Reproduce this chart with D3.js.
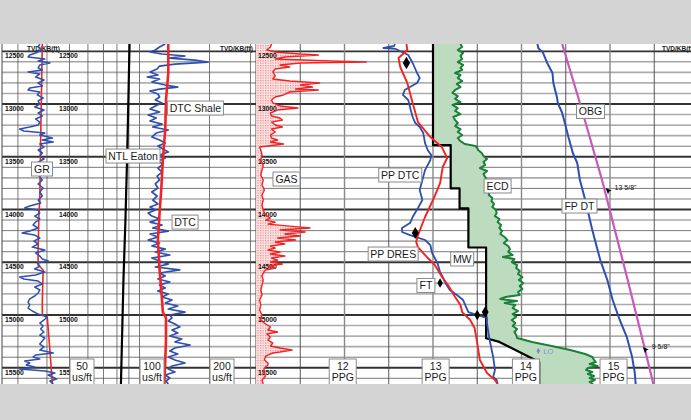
<!DOCTYPE html>
<html>
<head>
<meta charset="utf-8">
<script src="https://cdn.jsdelivr.net/npm/d3@7"></script>
<style>
  body { margin: 0; background: #fff; }
  svg { display: block; font-family: "Liberation Sans", Arial, sans-serif; }
</style>
</head>
<body>
<svg id="chart" width="691" height="420"></svg>
<script>
// ---- data: [depth ft TVD, value] ----
const gr = [[12431,45],[12459,43],[12488,48],[12516,40],[12535,33],[12554,31],[12573,51],[12592,43],[12611,57],[12630,45],
  [12658,43],[12677,48],[12696,31],[12715,45],[12744,40],[12772,50],[12801,43],[12829,48],[12848,33],[12867,31],
  [12886,45],[12914,42],[12943,49],[12971,43],[13000,45],[13028,39],[13057,50],[13085,43],[13114,48],[13142,40],
  [13171,45],[13199,43],[13218,33],[13237,21],[13256,26],[13275,51],[13294,45],[13322,60],[13341,48],[13360,61],
  [13379,45],[13408,50],[13436,43],[13464,48],[13493,45],[13521,50],[13550,43],[13578,48],[13607,45],[13645,49],
  [13683,44],[13720,48],[13758,43],[13796,49],[13834,45],[13872,48],[13910,43],[13938,46],[13967,33],[13986,27],
  [14005,43],[14033,45],[14062,39],[14090,45],[14119,40],[14147,37],[14175,43],[14204,33],[14223,24],[14242,39],
  [14270,45],[14299,38],[14327,43],[14356,36],[14384,51],[14412,40],[14441,45],[14469,48],[14488,55],[14507,42],
  [14536,45],[14564,39],[14593,51],[14621,40],[14640,21],[14659,26],[14678,43],[14706,48],[14735,39],[14763,45],
  [14791,43],[14820,39],[14848,33],[14877,31],[14905,33],[14934,31],[14962,36],[14991,43],[15019,54],[15047,50],
  [15076,45],[15104,49],[15133,46],[15161,50],[15190,45],[15218,51],[15247,48],[15275,45],[15303,50],[15332,45],
  [15360,61],[15379,40],[15398,37],[15417,45],[15436,27],[15455,33],[15474,29],[15493,39],[15512,21],[15531,51],
  [15550,63],[15569,55],[15588,60],[15607,65],[15626,57],[15654,61]];
const grTrend = [[12431,48],[13341,46],[13910,45],[14033,44],[14384,43],[14526,43],[14573,49],[14858,48],
  [14991,48],[15028,54],[15332,57],[15654,60]];

const dtc = [[12431,129],[12459,122],[12488,117],[12507,111],[12526,125],[12545,157],[12564,135],[12583,173],[12602,197],[12621,142],
  [12640,122],[12668,119],[12696,111],[12725,120],[12744,108],[12763,122],[12791,113],[12820,129],[12839,146],[12858,122],
  [12877,111],[12905,120],[12933,122],[12962,117],[12990,125],[13019,117],[13047,111],[13076,122],[13104,109],[13133,118],
  [13161,111],[13190,125],[13218,114],[13246,133],[13275,118],[13313,113],[13341,122],[13370,129],[13398,120],[13427,126],
  [13455,133],[13483,122],[13512,129],[13540,120],[13569,126],[13607,120],[13645,125],[13683,119],[13720,122],[13758,117],
  [13796,120],[13834,113],[13872,119],[13910,114],[13948,120],[13976,111],[14005,117],[14033,109],[14062,113],[14090,122],
  [14119,111],[14147,125],[14175,114],[14204,133],[14232,111],[14261,120],[14289,109],[14318,122],[14346,113],[14375,129],
  [14403,117],[14431,135],[14460,113],[14488,122],[14517,133],[14545,117],[14573,149],[14602,122],[14630,129],[14659,120],
  [14687,135],[14716,122],[14744,129],[14773,120],[14801,133],[14829,125],[14858,138],[14886,129],[14915,146],[14943,133],
  [14972,157],[15000,135],[15028,138],[15057,133],[15085,142],[15114,149],[15142,138],[15171,146],[15199,135],[15228,152],
  [15256,142],[15284,165],[15313,142],[15341,135],[15370,146],[15398,133],[15427,142],[15455,157],[15483,138],[15512,133],
  [15540,142],[15569,129],[15597,135],[15626,130],[15654,133]];
const dtcShale = [[12431,133],[12706,133],[12962,130],[13246,129],[13531,126],[13815,124],[14033,122],[14289,120],
  [14573,122],[14858,125],[14972,126],[15028,130],[15237,130],[15654,128]];
const ntlEaton = [[12431,90.6],[13000,89.5],[13530,88.4],[14100,87.0],[14670,85.3],[15654,83.2]];

const gas = [[12431,13],[12459,12],[12488,9],[12507,16],[12526,37],[12535,52],[12554,24],[12573,16],[12592,62],[12602,92],
  [12611,37],[12630,20],[12649,28],[12668,16],[12696,14],[12734,16],[12763,14],[12782,28],[12801,53],[12820,37],
  [12839,47],[12858,33],[12867,52],[12886,28],[12914,23],[12933,16],[12962,13],[12990,14],[13019,20],[13038,35],
  [13057,18],[13085,12],[13114,13],[13133,20],[13152,22],[13171,13],[13199,16],[13218,22],[13237,13],[13265,16],
  [13294,12],[13322,13],[13341,18],[13360,12],[13379,23],[13398,10],[13408,3],[13436,4],[13483,5],[13531,4],
  [13578,6],[13626,5],[13673,4],[13720,6],[13768,5],[13815,7],[13863,5],[13910,6],[13957,5],[14005,6],
  [14052,8],[14081,12],[14100,8],[14119,16],[14138,10],[14157,28],[14175,45],[14194,20],[14213,41],[14232,24],
  [14251,37],[14270,18],[14289,33],[14308,16],[14327,24],[14346,12],[14365,16],[14384,10],[14403,20],[14422,12],
  [14441,24],[14460,13],[14479,18],[14498,12],[14517,22],[14536,10],[14555,16],[14573,8],[14602,6],[14630,5],
  [14668,6],[14716,5],[14763,4],[14810,5],[14858,3],[14905,4],[14953,3],[15000,5],[15047,4],[15085,8],
  [15114,12],[15142,10],[15161,18],[15180,9],[15209,12],[15237,10],[15266,14],[15294,12],[15313,20],[15332,30],
  [15351,20],[15360,14],[15389,8],[15427,7],[15455,10],[15474,10],[15502,7],[15540,6],[15578,8],[15616,5],[15654,6]];

// pressure curves, ppg
const ppDres = [[12431,12.70],[12488,12.71],[12564,12.61],[12649,12.63],[12801,12.71],[12990,12.77],[13171,12.83],
  [13313,12.97],[13408,13.10],[13512,13.16],[13597,13.11],[13749,13.08],[13910,13.00],[14071,12.91],[14242,12.83],
  [14308,12.81],[14356,12.83],[14450,12.93],[14526,13.02],[14649,13.11],[14716,13.17],[14829,13.25],[14905,13.31],
  [14972,13.33],[15047,13.42],[15123,13.47],[15266,13.50],[15427,13.53],[15550,13.61],[15616,13.70],[15654,13.73]];
const ppDtc = [[12431,12.57],[12450,12.56],[12469,12.44],[12478,12.58],[12507,12.65],[12535,12.72],[12611,12.77],
  [12706,12.82],[12753,12.85],[12801,12.82],[12839,12.74],[12867,12.68],[12914,12.66],[12962,12.72],[13028,12.74],
  [13123,12.77],[13180,12.80],[13218,12.85],[13275,12.89],[13370,12.91],[13436,12.94],[13483,12.98],[13531,12.97],
  [13626,12.91],[13720,12.88],[13815,12.85],[13910,12.88],[13986,12.83],[14071,12.77],[14128,12.74],[14175,12.65],
  [14213,12.65],[14242,12.74],[14289,12.91],[14337,12.97],[14412,12.99],[14507,13.05],[14593,13.08],[14640,13.11],
  [14697,13.14],[14763,13.19],[14810,13.27],[14858,13.34],[14915,13.37],[14972,13.40],[15009,13.53],[15028,13.61],
  [15076,13.61],[15237,13.64],[15398,13.68],[15521,13.70],[15588,13.68],[15616,13.72],[15654,13.73]];
const mw = [[12431,13.0],[13390,13.0],[13390,13.2],[13800,13.2],[13800,13.3],[13990,13.3],[13990,13.4],[14360,13.4],
  [14360,13.6],[15220,13.6],[15255,13.75],[15445,14.2],[15660,14.2]];
const ecd = [[12431,13.31],[12459,13.33],[12488,13.28],[12516,13.34],[12545,13.31],[12573,13.33],[12602,13.28],[12630,13.34],
  [12658,13.31],[12677,13.33],[12706,13.25],[12725,13.31],[12753,13.28],[12782,13.33],[12810,13.27],[12839,13.31],
  [12867,13.25],[12895,13.22],[12924,13.28],[12952,13.25],[12981,13.31],[13009,13.22],[13038,13.28],[13066,13.25],
  [13095,13.31],[13123,13.23],[13152,13.25],[13180,13.28],[13209,13.25],[13237,13.31],[13265,13.28],[13294,13.33],
  [13322,13.28],[13351,13.31],[13379,13.36],[13398,13.48],[13417,13.50],[13436,13.51],[13464,13.55],[13493,13.57],
  [13521,13.61],[13550,13.57],[13578,13.59],[13607,13.53],[13635,13.61],[13664,13.57],[13692,13.59],[13720,13.61],
  [13749,13.59],[13777,13.62],[13806,13.61],[13834,13.64],[13863,13.63],[13891,13.67],[13919,13.66],[13948,13.69],
  [13976,13.67],[14005,13.71],[14033,13.72],[14062,13.70],[14090,13.75],[14119,13.73],[14147,13.77],[14175,13.75],
  [14204,13.78],[14232,13.76],[14261,13.81],[14289,13.84],[14318,13.80],[14346,13.85],[14375,13.87],[14403,13.85],
  [14431,13.90],[14450,13.79],[14469,13.92],[14498,13.89],[14526,13.95],[14555,13.94],[14583,13.98],[14611,13.96],
  [14640,14.01],[14668,13.97],[14697,14.02],[14725,13.98],[14754,14.01],[14782,13.96],[14810,13.98],[14829,13.82],
  [14848,13.76],[14867,13.95],[14886,13.81],[14905,13.93],[14934,13.90],[14962,13.96],[14991,13.90],[15019,13.94],
  [15047,13.89],[15076,13.93],[15104,13.90],[15133,13.95],[15161,13.92],[15190,13.94],[15218,13.95],[15256,14.12],
  [15294,14.34],[15332,14.55],[15370,14.72],[15398,14.80],[15427,14.82],[15446,14.84],[15465,14.77],[15483,14.86],
  [15502,14.75],[15521,14.73],[15540,14.80],[15559,14.75],[15578,14.82],[15597,14.77],[15616,14.83],[15635,14.77],[15654,14.81]];
const fpDt = [[12431,14.18],[12469,14.19],[12488,14.21],[12507,14.24],[12611,14.29],[12706,14.35],[12801,14.36],
  [12933,14.40],[12990,14.41],[13085,14.46],[13180,14.49],[13313,14.53],[13464,14.58],[13559,14.63],[13720,14.66],
  [13910,14.72],[14194,14.80],[14479,14.89],[14668,14.97],[14858,15.03],[15047,15.11],[15209,15.19],[15398,15.25],
  [15550,15.28],[15654,15.29]];
const obg = [[12431,14.46],[12990,14.66],[13720,14.91],[14668,15.20],[15209,15.36],[15654,15.49]];
// pressure points: depth, ppg, marker size
const pressurePoints = [[12611,12.70,46],[14223,12.80,42],[14697,13.08,26],[15000,13.50,32],[14972,13.59,40]];
const casingShoes = [["13 5/8\"", 13796, 14.95], ["9 5/8\"", 15303, 15.37]];
const lot = [15341, 14.19];

// ticks and labels
const depthLabels = [12500, 13000, 13500, 14000, 14500, 15000, 15500];
const dtcTicks = [30, 40, 50, 60, 70, 80, 90, 100, 200, 300];
const dtcUnitLabels = [50, 100, 200];
const ppgUnitLabels = [12, 13, 14, 15];
const ppgUnitAt = [11.98, 13.03, 14.05, 15.04];
// curve name boxes: text, scale, value, depth (box centre)
const curveNames = [
  ["GR", "gr", 47.6, 13616], ["NTL Eaton", "dtc", 93.8, 13493], ["DTC Shale", "dtc", 174, 13038],
  ["DTC", "dtc", 157, 14119], ["GAS", "gas", 25.4, 13711], ["PP DTC", "ppg", 12.63, 13673],
  ["ECD", "ppg", 13.73, 13777], ["FP DT", "ppg", 14.655, 13967], ["OBG", "ppg", 14.78, 13071],
  ["PP DRES", "ppg", 12.55, 14422], ["MW", "ppg", 13.33, 14469], ["FT", "ppg", 12.92, 14720]];

// ---- layout ----
const W = 691, H = 420, plotTop = 44, plotBottom = 384;
const svg = d3.select("#chart");

const y = d3.scaleLinear().domain([12431, 15654]).range([plotTop, plotBottom]);
const xGr = d3.scaleLinear().domain([0, 150]).range([2, 128]);
const xDtc = d3.scaleLog().domain([50, 200]).range([69.5, 209.5]);
const xGas = d3.scaleLinear().domain([0, 100]).range([256, 376]);
const xPpg = d3.scaleLinear().domain([11, 16]).range([256, 698.5]);
const scales = { gr: xGr, dtc: xDtc, gas: xGas, ppg: xPpg };

const defs = svg.append("defs");
defs.append("clipPath").attr("id", "plot")
  .append("rect").attr("x", 0).attr("y", plotTop).attr("width", W).attr("height", plotBottom - plotTop);
const pat = defs.append("pattern").attr("id", "gasfill")
  .attr("width", 2.5).attr("height", 2.5).attr("patternUnits", "userSpaceOnUse");
pat.append("rect").attr("width", 2.5).attr("height", 2.5).attr("fill", "#fbe6e6");
pat.append("rect").attr("width", 1.2).attr("height", 1.2).attr("fill", "#f08080");

svg.append("rect").attr("width", W).attr("height", H).attr("fill", "#fff");

const plot = svg.append("g").attr("clip-path", "url(#plot)");

// grid
const grid = plot.append("g");
grid.selectAll(".hl")
  .data(d3.range(12500, 15601, 100))
  .enter().append("line")
  .attr("x1", 2).attr("x2", W)
  .attr("y1", d => y(d)).attr("y2", d => y(d))
  .attr("stroke", d => d % 500 === 0 ? "#333" : (d / 100) % 2 ? "#aaa" : "#555")
  .attr("stroke-width", d => d % 500 === 0 ? 1.8 : (d / 100) % 2 ? 1.6 : 0.8);

grid.selectAll(".vd")
  .data(dtcTicks)
  .enter().append("line")
  .attr("x1", d => xDtc(d)).attr("x2", d => xDtc(d))
  .attr("y1", plotTop).attr("y2", plotBottom)
  .attr("stroke", "#555").attr("stroke-width", 0.8);

grid.selectAll(".vp")
  .data(d3.range(11.5, 16, 0.5))
  .enter().append("line")
  .attr("x1", d => xPpg(d)).attr("x2", d => xPpg(d))
  .attr("y1", plotTop).attr("y2", plotBottom)
  .attr("stroke", d => d % 1 === 0 ? "#888" : "#444")
  .attr("stroke-width", d => d % 1 === 0 ? 1.4 : 0.9);

grid.selectAll(".vb")
  .data([2, 256])
  .enter().append("line")
  .attr("x1", d => d).attr("x2", d => d)
  .attr("y1", plotTop).attr("y2", plotBottom)
  .attr("stroke", "#444").attr("stroke-width", 1);

// curve helper
function curve(data, sx, color, w) {
  return plot.append("path")
    .datum(data)
    .attr("fill", "none")
    .attr("stroke", color)
    .attr("stroke-width", w)
    .attr("stroke-linejoin", "round")
    .attr("d", d3.line().x(d => sx(d[1])).y(d => y(d[0])));
}

// gas dotted fill
plot.append("path")
  .datum(gas)
  .attr("fill", "url(#gasfill)")
  .attr("d", d3.area().x0(xGas(0)).x1(d => xGas(d[1])).y(d => y(d[0])));

// ECD / MW fill
const fillPts = mw.map(d => [xPpg(d[1]), y(d[0])])
  .concat(ecd.slice().reverse().map(d => [xPpg(d[1]), y(d[0])]));
plot.append("path")
  .attr("d", d3.line()(fillPts) + "Z")
  .attr("fill", "#bddcbf");

// depth labels, over the fills
const depthCols = [5, 59, 258];
depthCols.forEach(cx => {
  plot.append("g").selectAll("text")
    .data(depthLabels)
    .enter().append("text")
    .attr("x", cx).attr("y", d => y(d) + 7)
    .attr("font-size", 6.8).attr("font-weight", "bold").attr("fill", "#111")
    .text(d => d);
});
[27, 220, 662].forEach(cx => {
  plot.append("text").attr("x", cx).attr("y", 51)
    .attr("font-size", 6.5).attr("font-weight", "bold").attr("fill", "#222")
    .text("TVD/KB(ft)");
});

curve(gas, xGas, "#f02424", 1.4);

// track 1
curve(grTrend, xGr, "#f02424", 1.6);
curve(gr, xGr, "#2f4fae", 1.5);
curve(ntlEaton, xDtc, "#000", 2.2);
curve(dtc, xDtc, "#2f4fae", 1.7);
curve(dtcShale, xDtc, "#f02424", 2.6);

// track 2
curve(obg, xPpg, "#c659b9", 2.2);
curve(fpDt, xPpg, "#2f4fae", 2);
curve(ecd, xPpg, "#1b8038", 2);
curve(mw, xPpg, "#000", 2.2);
curve(ppDtc, xPpg, "#2f4fae", 1.8);
curve(ppDres, xPpg, "#f02424", 1.9);

plot.append("g").selectAll("path")
  .data(pressurePoints)
  .enter().append("path")
  .attr("transform", d => `translate(${xPpg(d[1])},${y(d[0])})`)
  .attr("d", d => d3.symbol(d3.symbolDiamond, d[2])())
  .attr("fill", "#000");

// casing shoes on the OBG
casingShoes.forEach(([name, depth, ppg]) => {
  const cx = xPpg(ppg), cy = y(depth);
  plot.append("path")
    .attr("d", `M${cx},${cy} l6,2.5 l-2.5,1 l-1,3 Z`)
    .attr("fill", "#000");
  plot.append("text")
    .attr("x", cx + 9).attr("y", cy + 2)
    .attr("font-size", 7).attr("fill", "#111")
    .text(name);
});

// LOT
plot.append("path")
  .attr("transform", `translate(${xPpg(lot[1])},${y(lot[0])})`)
  .attr("d", d3.symbol(d3.symbolDiamond, 10)())
  .attr("fill", "#6f86cc");
plot.append("text")
  .attr("x", xPpg(lot[1]) + 5).attr("y", y(lot[0]) + 3)
  .attr("font-size", 7.5).attr("fill", "#7f93d3")
  .text("LO");

// boxed labels
function boxLabel(lines, x, yTop, anchor) {
  const g = svg.append("g");
  const fs = 10.5, lh = 11.5;
  const t = g.append("text").attr("font-size", fs).attr("fill", "#1a1a1a").attr("text-anchor", "middle");
  lines.forEach((s, i) => t.append("tspan").attr("x", 0).attr("y", fs * 0.86 + i * lh).text(s));
  const bb = t.node().getBBox();
  const w = Math.ceil(bb.width) + 4, h = lines.length * lh + 2.5;
  const left = anchor === "left" ? x : x - w / 2;
  t.attr("transform", `translate(${left + w / 2},${yTop + 1.5})`);
  g.insert("rect", "text")
    .attr("x", left).attr("y", yTop).attr("width", w).attr("height", h)
    .attr("fill", "#fff").attr("stroke", "#8a8a8a").attr("stroke-width", 1);
}

curveNames.forEach(([name, s, v, depth]) => {
  boxLabel([name], scales[s](v), y(depth) - 7, "center");
});
dtcUnitLabels.forEach(v => boxLabel([String(v), "us/ft"], xDtc(v) + 0.5, y(15417), "left"));
ppgUnitLabels.forEach((v, i) => boxLabel([String(v), "PPG"], xPpg(ppgUnitAt[i]), y(15417), "center"));

// frame bands
svg.append("rect").attr("x", 0).attr("y", 0).attr("width", W).attr("height", plotTop).attr("fill", "#d4d4d4");
svg.append("rect").attr("x", 0).attr("y", plotBottom).attr("width", W).attr("height", H - plotBottom).attr("fill", "#d4d4d4");
</script>
</body>
</html>
